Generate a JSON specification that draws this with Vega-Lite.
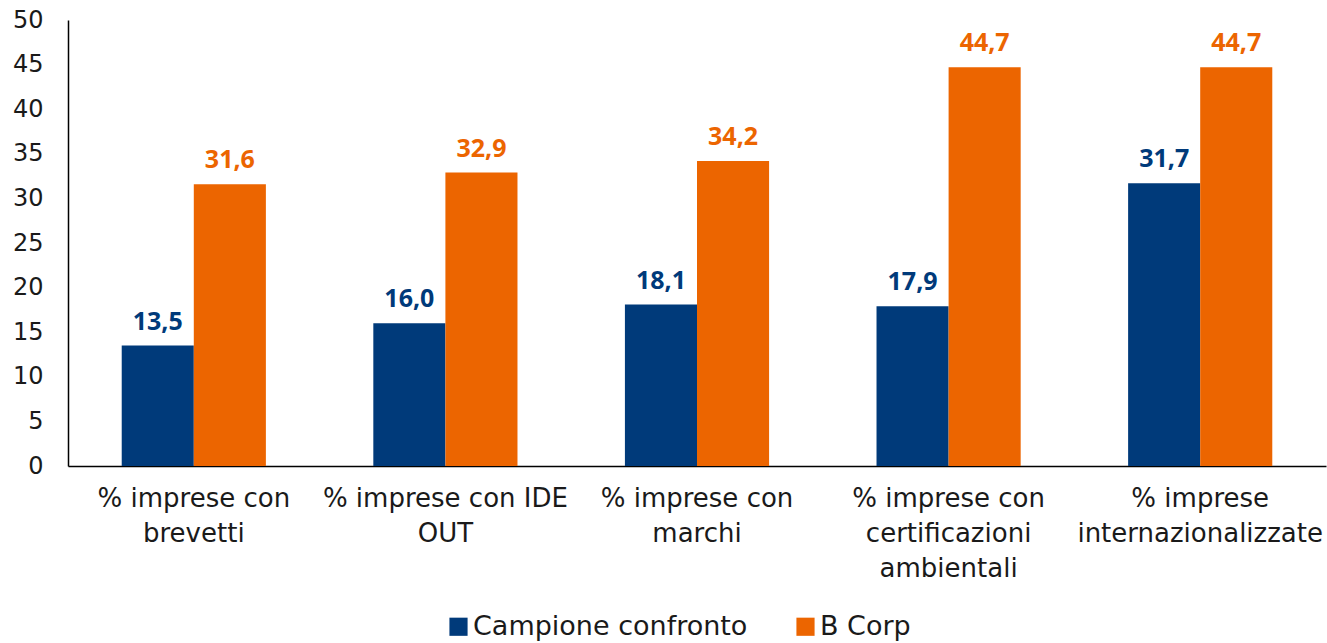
{
  "$schema": "https://vega.github.io/schema/vega-lite/v6.json",
  "width": 1258,
  "height": 446,
  "autosize": {"type": "none"},
  "padding": {"left": 68, "top": 20, "right": 1, "bottom": 177},
  "config": {
    "view": {"stroke": null},
    "font": "DejaVu Sans",
    "locale": {"number": {"decimal": ",", "thousands": ".", "grouping": [3], "currency": ["", " €"]}}
  },
  "data": {
    "values": [
      {"cat": "% imprese con|brevetti", "serie": "Campione confronto", "val": 13.5},
      {"cat": "% imprese con|brevetti", "serie": "B Corp", "val": 31.6},
      {"cat": "% imprese con IDE|OUT", "serie": "Campione confronto", "val": 16.0},
      {"cat": "% imprese con IDE|OUT", "serie": "B Corp", "val": 32.9},
      {"cat": "% imprese con|marchi", "serie": "Campione confronto", "val": 18.1},
      {"cat": "% imprese con|marchi", "serie": "B Corp", "val": 34.2},
      {"cat": "% imprese con|certificazioni|ambientali", "serie": "Campione confronto", "val": 17.9},
      {"cat": "% imprese con|certificazioni|ambientali", "serie": "B Corp", "val": 44.7},
      {"cat": "% imprese|internazionalizzate", "serie": "Campione confronto", "val": 31.7},
      {"cat": "% imprese|internazionalizzate", "serie": "B Corp", "val": 44.7}
    ]
  },
  "encoding": {
    "x": {
      "field": "cat", "type": "nominal", "sort": null,
      "scale": {"paddingInner": 0.427, "paddingOuter": 0.2135},
      "axis": {
        "title": null, "labelAngle": 0, "ticks": false,
        "labelExpr": "split(datum.label, '|')",
        "labelFontSize": 26, "labelColor": "#1a1a1a", "labelLineHeight": 35,
        "labelPadding": 19, "labelLimit": 400,
        "domainColor": "#000000", "domainWidth": 1.5
      }
    },
    "xOffset": {"field": "serie", "type": "nominal", "sort": ["Campione confronto", "B Corp"]},
    "y": {
      "field": "val", "type": "quantitative",
      "scale": {"domain": [0, 50], "nice": false},
      "axis": {
        "title": null, "grid": false, "ticks": false, "values": [0,5,10,15,20,25,30,35,40,45,50],
        "labelOverlap": false,
        "labelFontSize": 24, "labelColor": "#1a1a1a", "labelPadding": 25,
        "domainColor": "#000000", "domainWidth": 1.5
      }
    },
    "color": {
      "field": "serie", "type": "nominal",
      "scale": {"domain": ["Campione confronto", "B Corp"], "range": ["#003A7A", "#EC6500"]},
      "legend": {
        "title": null, "orient": "none", "direction": "horizontal",
        "legendX": 377, "legendY": 593,
        "symbolType": "square", "symbolSize": 330, "symbolStrokeWidth": 0,
        "labelFontSize": 27, "labelColor": "#1a1a1a", "labelOffset": 1, "labelLimit": 500,
        "columnPadding": 44
      }
    }
  },
  "layer": [
    {"mark": {"type": "bar"}},
    {
      "mark": {"type": "text", "baseline": "bottom", "dy": -11, "fontWeight": "bold", "fontSize": 25, "font": "Open Sans"},
      "encoding": {"text": {"field": "val", "type": "quantitative", "format": ".1f"}}
    }
  ]
}
